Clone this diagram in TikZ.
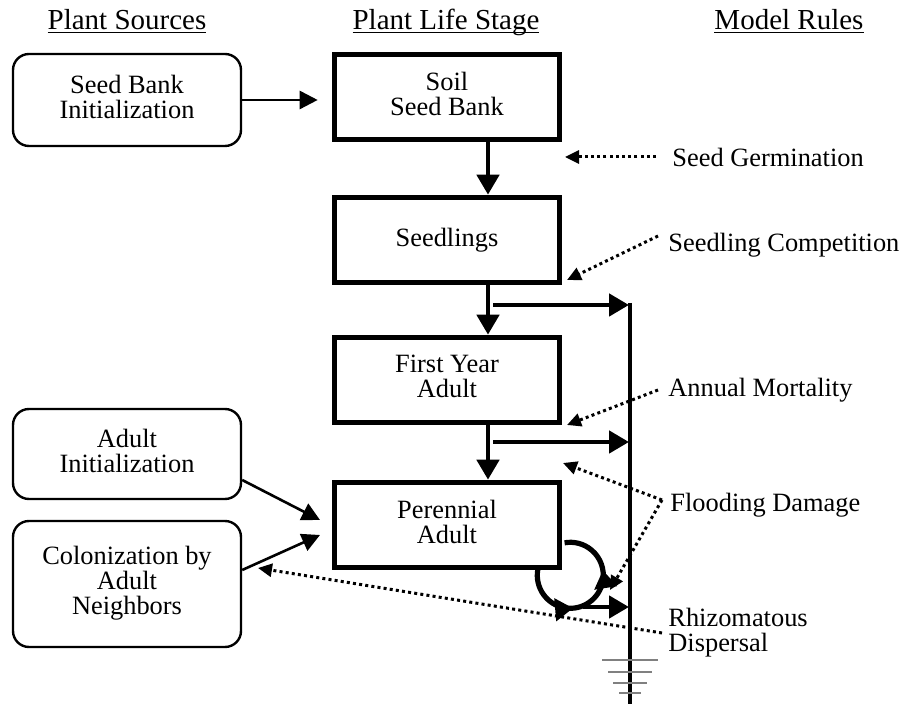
\documentclass[tikz,border=0pt]{standalone}
\usepackage{fontspec}
\setmainfont{Liberation Serif}
\usetikzlibrary{arrows.meta, shapes, backgrounds, decorations.markings}
\tikzstyle{source} = [rectangle, rounded corners=8pt, minimum width=114pt, minimum height=46pt, text centered, draw=black, line width=1.2pt]
\tikzstyle{stage} = [rectangle, minimum width=112.5pt, minimum height=42.5pt, text centered, draw=black, fill=white, line width=2.8pt]
\tikzstyle{ruletext} = [anchor=west, inner sep=0pt]
\tikzstyle{arrow} = [line width=2.3pt, -{Triangle[length=10pt,width=11pt]}]
\tikzstyle{thinarrow} = [line width=1.3pt, -{Triangle[length=9pt,width=9pt]}]
\tikzstyle{dotarrow} = [line width=1.5pt, dash pattern=on 1.5pt off 1.6pt, -{Triangle[length=7pt,width=6.5pt]}]
\tikzstyle{loopline} = [line width=2.6pt, decoration={markings,
  mark=at position 0.362 with {\arrow{Triangle[length=9pt,width=11pt]}},
  mark=at position 0.686 with {\arrow{Triangle[length=9pt,width=11pt]}}}, postaction={decorate}]
\newcommand{\heading}[1]{\underline{\smash{#1}}}

\begin{document}
\begin{tikzpicture}[x=0.5pt, y=-0.5pt, font=\fontsize{13.2pt}{11.6pt}\selectfont]
\useasboundingbox (0,0) rectangle (905,704);

% column headings
\node[anchor=base, font=\fontsize{14.5pt}{16pt}\selectfont] (hsources) at (127,30) {\heading{Plant Sources}};
\node[anchor=base, font=\fontsize{14.5pt}{16pt}\selectfont] (hstage) at (446,30) {\heading{Plant Life Stage}};
\node[anchor=base, font=\fontsize{14.5pt}{16pt}\selectfont] (hrules) at (789,30) {\heading{Model Rules}};

% plant sources
\node at (127,100) (seedinit) [source] {\begin{tabular}{c} Seed Bank \\ Initialization \end{tabular}};
\node at (127,454) (adultinit) [source, minimum height=45pt] {\begin{tabular}{c} Adult \\ Initialization \end{tabular}};
\node at (127,584) (colon) [source, minimum height=63pt] {\begin{tabular}{c} Colonization by \\ Adult \\ Neighbors \end{tabular}};

% plant life stages
\node at (447,97) (seedbank) [stage] {\begin{tabular}{c} Soil \\ Seed Bank \end{tabular}};
\node at (447,240) (seedlings) [stage] {Seedlings};
\node at (447,380) (firstyear) [stage] {\begin{tabular}{c} First Year \\ Adult \end{tabular}};
\node at (447,525) (perennial) [stage] {\begin{tabular}{c} Perennial \\ Adult \end{tabular}};

% model rules
\node[ruletext] (germ) at (672,157) {Seed Germination};
\node[ruletext] (compet) at (668,245) {Seedling Competition};
\node[ruletext] (mort) at (668,390) {Annual Mortality};
\node[ruletext] (flood) at (670,505) {Flooding Damage};
\node[ruletext] (rhizo) at (668,633) {\begin{tabular}{@{}l@{}} Rhizomatous \\ Dispersal \end{tabular}};

% stage transitions
\coordinate (lane) at (488,0);
\draw[arrow] (seedbank.south -| lane) -- (seedlings.north -| lane);
\draw[arrow] (seedlings.south -| lane) -- (firstyear.north -| lane);
\draw[arrow] (firstyear.south -| lane) -- (perennial.north -| lane);

% sources into stages
\draw[thinarrow, shorten >=7pt] (seedinit.east) -- (seedinit.east -| seedbank.west);
\coordinate (inper1) at (320,520);
\coordinate (inper2) at (320,535);
\draw[thinarrow] ([yshift=-13pt]adultinit.east) -- (inper1);
\draw[thinarrow] ([yshift=7pt]colon.east) -- (inper2);

% loss bar and ground
\coordinate (bartop) at (630,303);
\coordinate (barbot) at (630,704);
\draw[line width=2pt] (bartop) -- (barbot);
\foreach \y/\w in {660/28, 672/22, 683/17, 693/11}
  \draw[gray, line width=0.6pt] (630-\w,\y) -- (630+\w,\y);

\coordinate (out1) at (493,305);
\coordinate (out2) at (493,442);
\coordinate (loopout) at (583,607);
\coordinate (loss1) at (629,305);
\coordinate (loss2) at (629,442);
\coordinate (loss3) at (629,607);
\draw[arrow] (out1) -- (loss1);
\draw[arrow] (out2) -- (loss2);
\draw[arrow] (loopout) -- (loss3);

% rhizome loop behind perennial box
\begin{scope}[on background layer]
\coordinate (loopc) at ([shift={(8,5)}]perennial.south east);
\draw[loopline] (loopc) ++(190:33) arc[start angle=190, end angle=-100, radius=33];
\end{scope}

% rule effects
\coordinate (germtip) at (565,157);
\coordinate (compettip) at (567,280);
\coordinate (morttip) at (567,425);
\coordinate (floodtip1) at (563,463);
\coordinate (floodtip2) at (610,590);
\coordinate (rhizotip) at (258,568);
\draw[dotarrow] ([xshift=-8pt]germ.west) -- (germtip);
\draw[dotarrow] ([shift={(-10,-9)}]compet.west) -- (compettip);
\draw[dotarrow] ([xshift=-5pt]mort.west) -- (morttip);
\draw[dotarrow] ([shift={(-8,-5)}]flood.west) -- (floodtip1);
\draw[dotarrow] ([shift={(-8,-5)}]flood.west) -- (floodtip2);
\draw[dotarrow] ([xshift=-3pt]rhizo.west) -- (rhizotip);

\end{tikzpicture}
\end{document}
